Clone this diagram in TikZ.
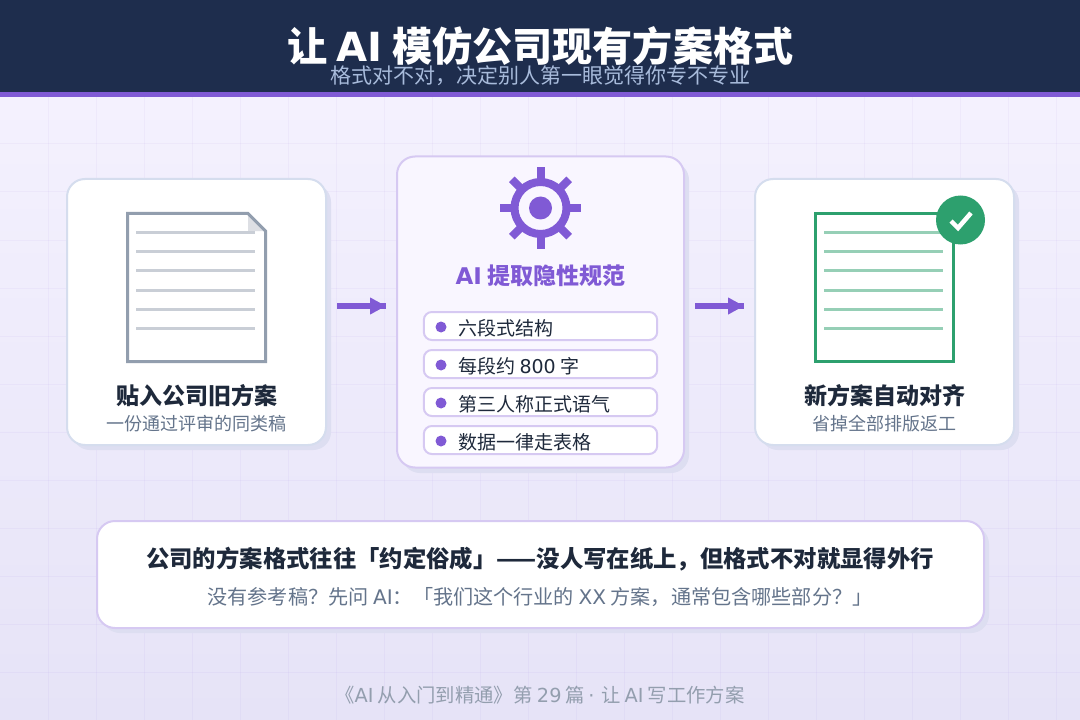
\documentclass[tikz,border=0pt]{standalone}
\usepackage{fontspec}
\setmainfont{Noto Sans CJK SC}
\newfontfamily\lat{DejaVu Sans}
\usetikzlibrary{arrows.meta}
\definecolor{navy}{HTML}{1E2D4D}
\definecolor{violet}{HTML}{805AD5}
\definecolor{paleviolet}{HTML}{D6C9F2}
\definecolor{cardline}{HTML}{D5DDEE}
\definecolor{shadowc}{HTML}{DDDEF1}
\definecolor{inkc}{HTML}{1E293B}
\definecolor{greyc}{HTML}{64748B}
\definecolor{greenc}{HTML}{2DA06E}
\definecolor{bgtop}{HTML}{F4F1FE}
\definecolor{bgbottom}{HTML}{E6E3F7}
\definecolor{subtitlec}{HTML}{A8BBDB}
\definecolor{aifill}{HTML}{F9F6FF}
\tikzset{
    card/.style={rectangle, rounded corners=13.5pt, line width=1.5pt, inner sep=0pt},
    pill/.style={rectangle, rounded corners=6pt, draw=paleviolet, fill=white, line width=1.5pt, minimum width=175pt, minimum height=21pt, inner sep=0pt},
    bigtext/.style={font=\bfseries\fontsize{17.25}{20}\selectfont, text=inkc, inner sep=0pt},
    subtext/.style={font=\fontsize{13.5}{16}\selectfont, text=greyc, inner sep=0pt},
    itemtext/.style={font=\fontsize{14.25}{17}\selectfont, text=inkc, inner sep=0pt, anchor=west},
    flowarrow/.style={line width=4.5pt, draw=violet, postaction={draw, -{Triangle[length=12pt,width=12pt]}}}
}
\begin{document}
\begin{tikzpicture}[x=0.75pt,y=-0.75pt]
    \useasboundingbox (0,0) rectangle (1080,720);
    \shade[top color=bgtop, bottom color=bgbottom] (0,97) rectangle (1080,720);
    \foreach \x in {48,96,...,1056}
        \draw[violet, opacity=0.05, line width=0.75pt] (\x,97) -- (\x,720);
    \foreach \y in {144,192,...,720}
        \draw[violet, opacity=0.05, line width=0.75pt] (0,\y) -- (1080,\y);
    % header
    \fill[navy] (0,0) rectangle (1080,92.5);
    \fill[violet] (0,92.5) rectangle (1080,97);
    \node[inner sep=0pt, text=white, font=\bfseries\fontsize{30.1}{34}\selectfont] (title) at (540.5,46) {让 {\lat AI} 模仿公司现有方案格式};
    \node[inner sep=0pt, text=subtitlec, font=\fontsize{15.75}{18}\selectfont] (subtitle) at (540,76) {格式对不对，决定别人第一眼觉得你专不专业};
    % shadows
    \fill[shadowc, rounded corners=13.5pt] (72,184) rectangle (331,450);
    \fill[shadowc, rounded corners=13.5pt] (402,162) rectangle (689,473);
    \fill[shadowc, rounded corners=13.5pt] (760,184) rectangle (1019,450);
    \fill[shadowc, rounded corners=13.5pt] (102,526) rectangle (989,633);
    % cards
    \node[card, draw=cardline, fill=white, minimum width=194.25pt, minimum height=199.5pt] (oldcard) at (196.5,312) {};
    \node[card, draw=paleviolet, fill=aifill, minimum width=215.25pt, minimum height=233.25pt] (aicard) at (540.5,312) {};
    \node[card, draw=cardline, fill=white, minimum width=194.25pt, minimum height=199.5pt] (newcard) at (884.5,312) {};
    \node[card, draw=paleviolet, fill=white, minimum width=665.25pt, minimum height=80.25pt] (notecard) at (540.5,574.5) {};
    \draw[flowarrow] ([xshift=7.5pt,yshift=4.5pt]oldcard.east) -- ([xshift=-7.5pt,yshift=4.5pt]aicard.west);
    \draw[flowarrow] ([xshift=7.5pt,yshift=4.5pt]aicard.east) -- ([xshift=-7.5pt,yshift=4.5pt]newcard.west);
    % old document
    \fill[white!85!navy] (248,213) -- (265.5,231) -- (248,231) -- cycle;
    \draw[line width=2.25pt, draw=greyc!70] (127.5,213.5) -- (248,213.5) -- (265.5,231) -- (265.5,361.5) -- (127.5,361.5) -- cycle;
    \foreach \y in {232,251,270,290,309,328}
        \draw[line width=2.25pt, draw=greyc!35] (136,\y) -- (255,\y);
    \node[bigtext] (oldname) at (196.5,396) {贴入公司旧方案};
    \node[subtext] (oldnote) at (196.5,424) {一份通过评审的同类稿};
    % gear
    \foreach \a in {0,45,...,315}
        \draw[violet, line width=6pt] (540.5,208) ++(\a:29) -- ++(\a:11.5);
    \draw[violet, line width=6pt] (540.5,208) circle (26);
    \fill[violet] (540.5,208) circle (11.5);
    \node[inner sep=0pt, text=violet, font=\bfseries\fontsize{17.25}{20}\selectfont] (aititle) at (540.5,276) {{\lat AI} 提取隐性规范};
    % rule list
    \node[pill] (pilla) at (540.5,326) {};
    \node[pill] (pillb) at (540.5,364) {};
    \node[pill] (pillc) at (540.5,402) {};
    \node[pill] (pilld) at (540.5,440) {};
    \foreach \y in {327,365,403,441}
        \fill[violet] (441,\y) circle (5.5);
    \node[itemtext] (itema) at (458,328) {六段式结构};
    \node[itemtext] (itemb) at (458,366) {每段约 {\lat 800} 字};
    \node[itemtext] (itemc) at (458,404) {第三人称正式语气};
    \node[itemtext] (itemd) at (458,442) {数据一律走表格};
    % new document
    \draw[line width=2.25pt, draw=greenc, fill=white] (815.5,213.5) rectangle (953.5,361.5);
    \foreach \y in {232,251,270,290,309,328}
        \draw[line width=2.25pt, draw=greenc!50] (824,\y) -- (943,\y);
    \fill[greenc] (960.5,220) circle (24.5);
    \draw[white, line width=3.4pt] (951,221) -- (958,228) -- (971,213);
    \node[bigtext] (newname) at (884.5,396) {新方案自动对齐};
    \node[subtext] (newnote) at (884.5,424) {省掉全部排版返工};
    % note
    \node[bigtext, font=\bfseries\fontsize{17.52}{20}\selectfont] (notea) at (540,559) {公司的方案格式往往「约定俗成」——没人写在纸上，但格式不对就显得外行};
    \node[inner sep=0pt, text=greyc, font=\fontsize{15.1}{18}\selectfont] (noteb) at (540,597) {没有参考稿？先问 {\lat AI}：「我们这个行业的 {\lat XX} 方案，通常包含哪些部分？」};
    \node[inner sep=0pt, text=greyc!70, font=\fontsize{14.5}{17}\selectfont] (footer) at (540,695) {《{\lat AI} 从入门到精通》第 {\lat 29} 篇\,{\lat ·}\,\,让 {\lat AI} 写工作方案};
\end{tikzpicture}
\end{document}
